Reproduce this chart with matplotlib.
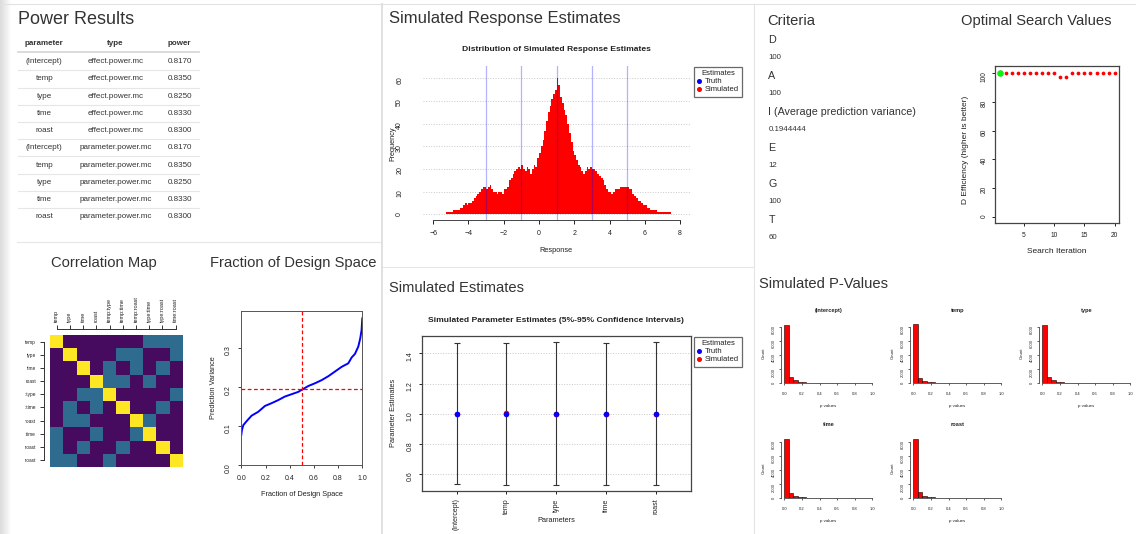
import numpy as np
import matplotlib
matplotlib.use('Agg')
import matplotlib.pyplot as plt
from matplotlib.lines import Line2D
from matplotlib.transforms import Affine2D, Bbox, TransformedBbox

plt.rcParams['font.family'] = ['Liberation Sans', 'DejaVu Sans']
plt.rcParams['axes.linewidth'] = 0.7

# ---------------- data ----------------
power_parameter = ['(Intercept)', 'temp', 'type', 'time', 'roast',
                   '(Intercept)', 'temp', 'type', 'time', 'roast']
power_type = ['effect.power.mc'] * 5 + ['parameter.power.mc'] * 5
power_value = [0.8170, 0.8350, 0.8250, 0.8330, 0.8300,
               0.8170, 0.8350, 0.8250, 0.8330, 0.8300]

corr_terms = ['temp', 'type', 'time', 'roast', 'temp:type', 'temp:time',
              'temp:roast', 'type:time', 'type:roast', 'time:roast']
corr_matrix = [
    [1, 0, 0, 0, 0, 0, 0, .33, .33, .33],
    [0, 1, 0, 0, 0, .33, .33, 0, 0, .33],
    [0, 0, 1, 0, .33, 0, .33, 0, .33, 0],
    [0, 0, 0, 1, .33, .33, 0, .33, 0, 0],
    [0, 0, .33, .33, 1, 0, 0, 0, 0, .33],
    [0, .33, 0, .33, 0, 1, 0, 0, .33, 0],
    [0, .33, .33, 0, 0, 0, 1, .33, 0, 0],
    [.33, 0, 0, .33, 0, 0, .33, 1, 0, 0],
    [.33, 0, .33, 0, 0, .33, 0, 0, 1, 0],
    [.33, .33, 0, 0, .33, 0, 0, 0, 0, 1],
]

fds_fraction = [0.0, 0.005, 0.017, 0.044, 0.085, 0.14, 0.196, 0.25, 0.306, 0.36,
                0.416, 0.471, 0.504, 0.554, 0.609, 0.664, 0.719, 0.774, 0.829,
                0.884, 0.912, 0.939, 0.967, 0.983, 0.994, 1.0]
fds_variance = [0.078, 0.090, 0.103, 0.113, 0.127, 0.137, 0.152, 0.159, 0.167, 0.176,
                0.182, 0.188, 0.194, 0.203, 0.210, 0.218, 0.228, 0.240, 0.252,
                0.261, 0.276, 0.285, 0.304, 0.325, 0.346, 0.376]
fds_median_variance = 0.1944444

hist_start = -5.3
hist_binwidth = 0.1
hist_counts = [1, 1, 1, 1, 2, 2, 2, 2, 3, 3,
               4, 5, 4, 5, 5, 6, 7, 8, 9, 10,
               11, 12, 12, 11, 12, 13, 11, 10, 10, 9,
               10, 10, 9, 11, 11, 12, 15, 16, 18, 19,
               20, 21, 20, 22, 20, 19, 21, 20, 18, 20,
               22, 21, 25, 27, 30, 33, 37, 41, 45, 48,
               51, 53, 55, 60, 57, 52, 49, 46, 44, 40,
               36, 32, 28, 26, 24, 22, 21, 19, 18, 19,
               21, 20, 21, 20, 20, 19, 18, 17, 16, 15,
               13, 11, 10, 10, 9, 10, 11, 11, 11, 12,
               12, 12, 12, 12, 11, 11, 9, 8, 7, 6,
               6, 5, 4, 4, 3, 3, 2, 2, 2, 2,
               1, 1, 1, 1, 1, 1, 1, 1]
truth_values = [-3, -1, 1, 3, 5]

param_names = ['(Intercept)', 'temp', 'type', 'time', 'roast']
param_truth = [1, 1, 1, 1, 1]
param_sim = [1.0, 1.003, 1.0, 1.001, 1.0]
param_lower = [0.535, 0.530, 0.530, 0.527, 0.527]
param_upper = [1.472, 1.472, 1.478, 1.472, 1.478]

criteria_names = ['D', 'A', 'I (Average prediction variance)', 'E', 'G', 'T']
criteria_values = ['100', '100', '0.1944444', '12', '100', '60']

search_iteration = list(range(1, 21))
search_deff = [100, 100, 100, 100, 100, 100, 100, 100, 100, 100,
               97.2, 97.2, 100, 100, 100, 100, 100, 100, 100, 100]
search_best = 1

pvalue_terms = ['(Intercept)', 'temp', 'type', 'time', 'roast']
pvalue_binwidth = 0.05
pvalue_counts = [
    [8170, 850, 420, 230, 140, 80, 50, 30, 15, 10, 5],
    [8350, 800, 380, 200, 120, 70, 40, 25, 10, 5, 0],
    [8250, 830, 400, 210, 130, 80, 50, 30, 15, 5, 0],
    [8330, 810, 390, 200, 120, 70, 40, 25, 10, 5, 0],
    [8300, 820, 390, 210, 125, 75, 40, 25, 10, 5, 0],
]

# ---------------- figure ----------------
W, H = 1136, 534
fig = plt.figure(figsize=(W / 100, H / 100), dpi=100)
fig.patch.set_facecolor('white')
PX = Affine2D().scale(1 / W, -1 / H).translate(0, 1) + fig.transFigure
TXT = '#333333'
RT = '#222222'
SEC = 10.6   # section heading size


def add_ax(x0, y0, x1, y1):
    return fig.add_axes([x0 / W, 1 - y1 / H, (x1 - x0) / W, (y1 - y0) / H])


def place_labels(ax, xlab, xpos, ylab, ypos, size, color=RT):
    ax.set_xlabel(xlab, fontsize=size, color=color)
    ax.set_ylabel(ylab, fontsize=size, color=color)
    ax.xaxis.set_label_coords(xpos[0], xpos[1], transform=PX)
    ax.yaxis.set_label_coords(ypos[0], ypos[1], transform=PX)
    ax.xaxis.label.set_va('center')
    ax.yaxis.label.set_va('center')
    ax.yaxis.label.set_ha('center')


def legend_box(ax, x, y):
    handles = [Line2D([], [], ls='', marker='o', color='blue', markersize=2.6),
               Line2D([], [], ls='', marker='o', color='red', markersize=2.6)]
    leg = ax.legend(handles, ['Truth', 'Simulated'], title='Estimates',
                    loc='upper left', bbox_to_anchor=(x, y), bbox_transform=PX,
                    fontsize=5.5, title_fontsize=5.5, frameon=True, fancybox=False,
                    edgecolor='#444444', borderpad=0.45, handlelength=0.5,
                    handletextpad=0.45, labelspacing=0.1, borderaxespad=0,
                    alignment='center')
    leg.get_frame().set_linewidth(0.9)
    for t in leg.get_texts():
        t.set_color(RT)
    leg.get_title().set_color(RT)


# background / decorations
bg = fig.add_axes([0, 0, 1, 1], zorder=-5)
bg.imshow(np.linspace(0.86, 1.0, 12)[None, :], cmap='gray', vmin=0, vmax=1,
          extent=(0, 12, H, 0), aspect='auto')
bg.set_xlim(0, W)
bg.set_ylim(H, 0)
bg.axis('off')
bg.plot([0, W], [3.5, 3.5], color='#e2e2e2', lw=0.8)
bg.plot([382, 382], [3.5, H], color='#e0e0e0', lw=1.4)
bg.plot([753.5, 753.5], [3.5, H], color='#e4e4e4', lw=0.8)
bg.plot([17, 380], [241.7, 241.7], color='#e6e6e6', lw=0.8)
bg.plot([383, 753], [267.3, 267.3], color='#e6e6e6', lw=0.8)

# ---- Power Results table ----
bg.text(18, 19.5, 'Power Results', fontsize=13, color=TXT, va='center', ha='left')
col_x = [44.3, 115.5, 179.5]
for cx, head in zip(col_x, ['parameter', 'type', 'power']):
    bg.text(cx, 43.3, head, fontsize=5.8, weight='bold', color=TXT, ha='center', va='center')
bg.plot([18.3, 199], [52.3, 52.3], color='#d8d8d8', lw=1.3)
for i, (p, t, v) in enumerate(zip(power_parameter, power_type, power_value)):
    y = 61.7 + i * 17.22
    bg.text(col_x[0], y, p, fontsize=5.8, color=TXT, ha='center', va='center')
    bg.text(col_x[1], y, t, fontsize=5.8, color=TXT, ha='center', va='center')
    bg.text(col_x[2], y, f'{v:.4f}', fontsize=5.8, color=TXT, ha='center', va='center')
    if i < len(power_value) - 1:
        bg.plot([18.3, 199], [y + 8.6, y + 8.6], color='#e6e6e6', lw=0.8)

# ---- Correlation Map ----
bg.text(103.7, 263, 'Correlation Map', fontsize=SEC, color=TXT, ha='center', va='center')
axc = add_ax(50, 335, 182.3, 466.7)
n = len(corr_terms)
for s in ['right', 'bottom']:
    axc.spines[s].set_visible(False)
for s in ['top', 'left']:
    axc.spines[s].set_position(('outward', 4.3))
    axc.spines[s].set_bounds(0, n - 1)
    axc.spines[s].set_color('#333333')
axc.imshow(np.array(corr_matrix), cmap='viridis', vmin=-0.03, vmax=1, aspect='auto',
           interpolation='nearest', extent=(-0.5, n - 0.5, n - 0.5, -0.5))
axc.set_xlim(-0.5, n - 0.5)
axc.set_ylim(n - 0.5, -0.5)
axc.xaxis.tick_top()
axc.set_xticks(range(n))
axc.set_xticklabels(corr_terms)
axc.set_yticks(range(n))
axc.set_yticklabels(corr_terms)
axc.tick_params(axis='x', length=3, width=0.7, color='#333333', pad=2.4,
                labelsize=4.0, labelcolor=RT, labelrotation=90)
axc.tick_params(axis='y', length=3, width=0.7, color='#333333', pad=2.6,
                labelsize=3.4, labelcolor=RT)
clip = TransformedBbox(Bbox.from_extents(25 / W, 0, 1, 1), fig.transFigure)
for lab in axc.get_yticklabels():
    lab.set_clip_box(clip)
    lab.set_clip_on(True)

# ---- Fraction of Design Space ----
bg.text(293.5, 263, 'Fraction of Design Space', fontsize=SEC, color=TXT, ha='center', va='center')
axf = add_ax(241.3, 311, 362.3, 465.3)
axf.plot(fds_fraction, fds_variance, color='blue', lw=1.4)
axf.axvline(0.5, color='red', ls=(0, (3, 2)), lw=0.9)
axf.axhline(fds_median_variance, color='red', ls=(0, (3, 2)), lw=0.9)
axf.set_xlim(0, 1)
axf.set_ylim(0, 0.395)
axf.set_xticks([0, 0.2, 0.4, 0.6, 0.8, 1.0])
axf.set_xticklabels(['0.0', '0.2', '0.4', '0.6', '0.8', '1.0'])
axf.set_yticks([0, 0.1, 0.2, 0.3])
axf.set_yticklabels(['0.0', '0.1', '0.2', '0.3'])
axf.tick_params(length=2.2, width=0.6, labelsize=5.0, pad=4.7, colors=RT)
axf.tick_params(axis='y', labelrotation=90)
for s in axf.spines.values():
    s.set_color('#555555')
place_labels(axf, 'Fraction of Design Space', (301.8, 495), 'Prediction Variance', (213.3, 388), 5.3)

# ---- Simulated Response Estimates ----
bg.text(389, 19, 'Simulated Response Estimates', fontsize=12, color=TXT, ha='left', va='center')
axh = add_ax(423.3, 66, 690, 220)
for s in ['top', 'right', 'left']:
    axh.spines[s].set_visible(False)
axh.spines['bottom'].set_bounds(-6, 8)
axh.spines['bottom'].set_color('#444444')
edges = hist_start + hist_binwidth * np.arange(len(hist_counts))
axh.bar(edges, hist_counts, width=hist_binwidth, align='edge', color='red', lw=0)
for v in truth_values:
    axh.axvline(v, color='blue', alpha=0.3, lw=0.9)
axh.set_xlim(-6.56, 8.56)
axh.set_ylim(-2.52, 65.52)
axh.set_xticks(range(-6, 9, 2))
axh.set_yticks(range(0, 61, 10))
axh.grid(axis='y', color='#c8c8c8', ls=':', lw=0.7)
axh.set_axisbelow(True)
axh.tick_params(axis='x', length=2.9, width=0.7, labelsize=5.0, pad=4.2, colors=RT)
axh.tick_params(axis='y', length=0, labelsize=5.0, pad=14.5, colors=RT, labelrotation=90)
axh.set_title('Distribution of Simulated Response Estimates', fontsize=6.1, weight='bold',
              color=RT, y=(220 - 49) / 154, va='center', pad=0)
place_labels(axh, 'Response', (556, 250), 'Frequency', (393.3, 143.3), 5.3)
legend_box(axh, 694, 66.7)

# ---- Simulated Estimates ----
bg.text(389, 288, 'Simulated Estimates', fontsize=SEC, color=TXT, ha='left', va='center')
axe = add_ax(421.7, 336, 690.7, 490.7)
xs = np.arange(1, len(param_names) + 1)
low_err = np.subtract(param_sim, param_lower)
up_err = np.subtract(param_upper, param_sim)
axe.errorbar(xs, param_sim, yerr=[low_err, up_err], fmt='none', ecolor='#333333',
             elinewidth=0.8, capsize=2.2, capthick=0.8)
axe.plot(xs, param_sim, 'o', color='red', ms=4.0, mew=0)
axe.plot(xs, param_truth, 'o', color='blue', ms=4.0, mew=0)
axe.set_xlim(0.3, 5.7)
axe.set_ylim(0.489, 1.516)
axe.set_xticks(xs)
axe.set_xticklabels(param_names, rotation=90)
axe.set_yticks([0.6, 0.8, 1.0, 1.2, 1.4])
axe.grid(axis='y', color='#c8c8c8', ls=':', lw=0.7)
axe.set_axisbelow(True)
for s in axe.spines.values():
    s.set_color('#444444')
    s.set_linewidth(0.9)
axe.tick_params(length=2.2, width=0.7, labelsize=5.0, pad=3.3, colors=RT)
axe.tick_params(axis='y', labelrotation=90, pad=3.6)
axe.set_title('Simulated Parameter Estimates (5%-95% Confidence Intervals)', fontsize=6.1,
              weight='bold', color=RT, y=(490.7 - 320) / 154.7, va='center', pad=0)
place_labels(axe, 'Parameters', (556, 520), 'Parameter Estimates', (393.3, 413.3), 5.3)
legend_box(axe, 694, 336.7)

# ---- Criteria ----
bg.text(767.7, 20.7, 'Criteria', fontsize=SEC, color=TXT, ha='left', va='center')
for i, (nm, val) in enumerate(zip(criteria_names, criteria_values)):
    y = 40 + i * 36
    bg.text(768.3, y, nm, fontsize=7.75, color=TXT, ha='left', va='center')
    bg.text(768.3, y + 17.8, val, fontsize=5.7, color=TXT, ha='left', va='center')

# ---- Optimal Search Values ----
bg.text(961, 20.7, 'Optimal Search Values', fontsize=SEC, color=TXT, ha='left', va='center')
axo = add_ax(995, 66, 1119.3, 222.7)
axo.plot(search_iteration, search_deff, 'o', color='red', ms=2.7, mew=0)
axo.plot([search_best], [search_deff[search_iteration.index(search_best)]], 'o',
         color='#11ee11', ms=4.8, mew=0)
axo.set_xlim(0.24, 20.76)
axo.set_ylim(-4.2, 105.1)
axo.set_xticks([5, 10, 15, 20])
axo.set_yticks(range(0, 101, 20))
for s in axo.spines.values():
    s.set_color('#444444')
    s.set_linewidth(0.9)
axo.tick_params(length=2.2, width=0.7, labelsize=4.8, pad=4.4, colors=RT)
axo.tick_params(axis='y', labelrotation=90, pad=3.2)
place_labels(axo, 'Search Iteration', (1057, 251.7), 'D Efficiency (higher is better)',
             (965.7, 149.5), 6.0)

# ---- Simulated P-Values ----
bg.text(759, 284, 'Simulated P-Values', fontsize=SEC, color=TXT, ha='left', va='center')
col_x0 = [784.3, 913.3, 1042.3]
row_base = [383.3, 498.3]
for k, (term, counts) in enumerate(zip(pvalue_terms, pvalue_counts)):
    r, c = divmod(k, 3)
    x0 = col_x0[c]
    yb = row_base[r]
    ax = add_ax(x0 - 3.5, yb - 66, x0 + 91.5, yb)
    for s in ['top', 'right']:
        ax.spines[s].set_visible(False)
    ax.spines['bottom'].set_bounds(0, 1)
    ax.spines['left'].set_bounds(0, 8000)
    for s in ['bottom', 'left']:
        ax.spines[s].set_color('#444444')
        ax.spines[s].set_linewidth(0.6)
    pe = pvalue_binwidth * np.arange(len(counts))
    ax.bar(pe, counts, width=pvalue_binwidth, align='edge', color='red',
           edgecolor='black', lw=0.4)
    ax.set_xlim(-0.04, 1.04)
    ax.set_ylim(0, 8000 * 66 / 56.7)
    ax.set_xticks([0, 0.2, 0.4, 0.6, 0.8, 1.0])
    ax.set_xticklabels(['0.0', '0.2', '0.4', '0.6', '0.8', '1.0'])
    ax.set_yticks([0, 2000, 4000, 6000, 8000])
    ax.tick_params(length=1.5, width=0.5, labelsize=3.0, pad=4.5, colors=RT)
    ax.tick_params(axis='y', labelrotation=90, pad=2.2)
    ax.set_title(term, fontsize=4.1, weight='bold', color=RT, y=73.3 / 66, va='center', pad=0)
    place_labels(ax, 'p values', (x0 + 44, yb + 22.7), 'Count', (x0 - 21, yb - 30), 3.2)

fig.savefig('out.png', dpi=100, facecolor='white')
